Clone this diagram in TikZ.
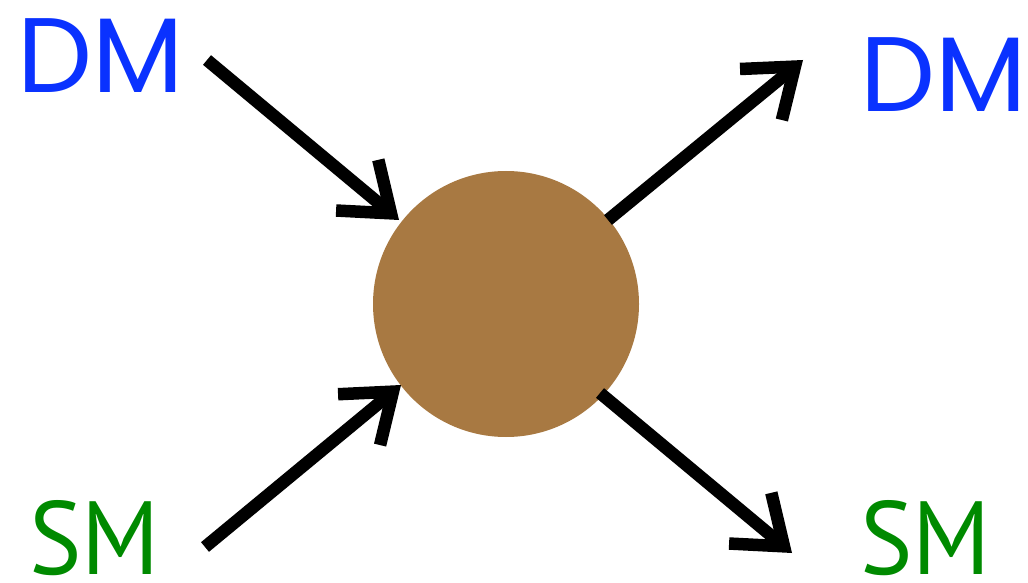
\documentclass[tikz,border=0pt]{standalone}
\usepackage{fontspec}
\usetikzlibrary{arrows.meta}
\newfontfamily\dmfont{Poppins}
\newfontfamily\smfont{PT Sans}
\definecolor{dmblue}{RGB}{10,50,255}
\definecolor{smgreen}{RGB}{0,138,0}
\definecolor{blobbrown}{RGB}{168,121,66}
\begin{document}
\begin{tikzpicture}[x=1pt,y=1pt,
  lbl/.style={inner sep=0pt,anchor=base west},
  dmlbl/.style={lbl,text=dmblue,font=\dmfont\fontsize{106}{106}\selectfont},
  smlbl/.style={lbl,text=smgreen,font=\smfont\fontsize{104}{104}\selectfont},
  conn/.style={line width=12.5pt,-{Straight Barb[length=44pt,width=66pt,line width=12.5pt]}}]
\useasboundingbox (0,0) rectangle (1028,582);
\node[circle,fill=blobbrown,minimum size=266pt,inner sep=0pt] (c) at (506,278) {};
\node[dmlbl] (dmin) at (17,489) {DM};
\node[dmlbl] (dmout) at (860,470) {DM};
\node[smlbl,xscale=0.95] (smin) at (29,8) {SM};
\node[smlbl,xscale=0.95] (smout) at (860,8) {SM};
\coordinate (a1s) at (207,522);
\coordinate (a1e) at (399,362);
\coordinate (a2s) at (205,35);
\coordinate (a2e) at (401,197);
\coordinate (a3s) at (608,362);
\coordinate (a3e) at (803,522);
\coordinate (a4s) at (600,189);
\coordinate (a4e) at (792,29);
\draw[conn] (a1s) -- (a1e);
\draw[conn] (a2s) -- (a2e);
\draw[conn] (a3s) -- (a3e);
\draw[conn] (a4s) -- (a4e);
\end{tikzpicture}
\end{document}
